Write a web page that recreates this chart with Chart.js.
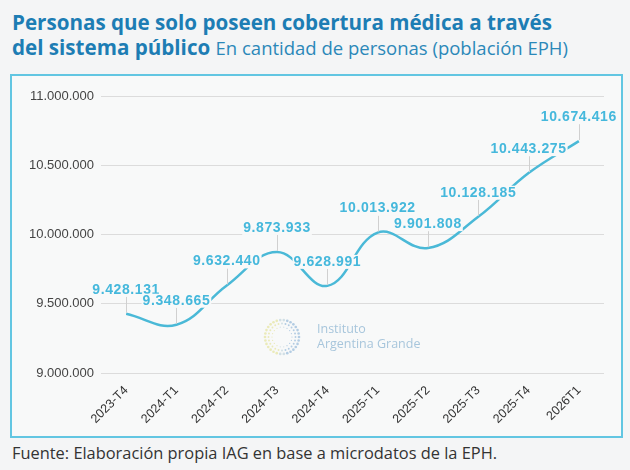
<!DOCTYPE html>
<html>
<head>
<meta charset="utf-8">
<script src="https://cdn.jsdelivr.net/npm/chart.js@4.4.1/dist/chart.umd.min.js"></script>
<style>
  html, body { margin: 0; padding: 0; }
  body {
    width: 630px; height: 470px; overflow: hidden; position: relative;
    background: #f4f5f6; font-family: "Open Sans", sans-serif;
  }
  #title {
    position: absolute; left: 12px; top: 10px; width: 615px;
    font-size: 20.6px; line-height: 25px; color: #1d7db4; font-weight: 700;
    white-space: nowrap;
  }
  #title span { font-weight: 400; font-size: 18.5px; color: #2b88b9; }
  #box {
    position: absolute; left: 10px; top: 74px; width: 613px; height: 364px;
    box-sizing: border-box; border: 2px solid #62c6e2; background: #f8f9f9;
  }
  #box canvas { display: block; }
  #source {
    position: absolute; left: 12px; top: 441px;
    font-size: 16.4px; color: #333;
  }
</style>
</head>
<body>
<div id="title">Personas que solo poseen cobertura médica a través<br>del sistema público <span>En cantidad de personas (población EPH)</span></div>
<div id="box"><canvas id="lineChart" width="609" height="360"></canvas></div>
<div id="source">Fuente: Elaboración propia IAG en base a microdatos de la EPH.</div>
<script>
// Datos
const PERIODS = ['2023-T4','2024-T1','2024-T2','2024-T3','2024-T4','2025-T1','2025-T2','2025-T3','2025-T4','2026T1'];
const PERSONAS = [9428131, 9348665, 9632440, 9873933, 9628991, 10013922, 9901808, 10128185, 10443275, 10674416];
const Y_MIN = 9000000;
const Y_MAX = 11000000;
const Y_STEP = 500000;

const LINE_COLOR  = '#4ab9d7';
const LABEL_COLOR = '#45b8dc';
const PLOT_BG     = '#f8f9f9';

// separador de miles con punto
const fmt = v => String(Math.round(v)).replace(/\B(?=(\d{3})+(?!\d))/g, '.');

// etiquetas de valor con línea guía y fondo
const valueLabels = {
    id: 'valueLabels',
    afterDatasetsDraw(chart) {
        const ctx = chart.ctx;
        const meta = chart.getDatasetMeta(0);
        ctx.save();
        ctx.font = 'bold 14px "Liberation Sans", Arial, sans-serif';
        if ('letterSpacing' in ctx) ctx.letterSpacing = '0.6px';
        ctx.textAlign = 'center';
        ctx.textBaseline = 'middle';
        meta.data.forEach((pt, i) => {
            const txt = fmt(PERSONAS[i]);
            const ly = pt.y - 24;
            // línea guía
            ctx.strokeStyle = '#d0d0d0';
            ctx.lineWidth = 1;
            ctx.beginPath();
            ctx.moveTo(Math.round(pt.x) + 0.5, ly + 7);
            ctx.lineTo(Math.round(pt.x) + 0.5, pt.y - 1);
            ctx.stroke();
            const w = ctx.measureText(txt).width;
            ctx.fillStyle = PLOT_BG;
            ctx.fillRect(pt.x - w / 2 - 1, ly - 7, w + 2, 14);
            ctx.fillStyle = LABEL_COLOR;
            ctx.fillText(txt, pt.x, ly);
        });
        ctx.restore();
    },
};

// marca de agua del instituto
const watermark = {
    id: 'watermark',
    beforeDatasetsDraw(chart) {
        const ctx = chart.ctx;
        const a = chart.chartArea;
        const cx = a.left + 181, cy = a.top + 241;
        ctx.save();
        const rings = [10, 13.5, 17];
        rings.forEach((r, k) => {
            const n = 18 + k * 6;
            for (let j = 0; j < n; j++) {
                const ang = (j / n) * Math.PI * 2;
                const side = Math.cos(ang);
                ctx.fillStyle = side < -0.2 ? 'rgba(222,220,120,0.5)'
                              : side > 0.2 ? 'rgba(110,160,205,0.5)'
                              : 'rgba(150,185,200,0.4)';
                ctx.beginPath();
                ctx.arc(cx + Math.cos(ang) * r, cy + Math.sin(ang) * r, 0.6 + k * 0.35, 0, Math.PI * 2);
                ctx.fill();
            }
        });
        ctx.fillStyle = 'rgba(140,180,210,0.75)';
        ctx.font = '12.5px "Open Sans", sans-serif';
        ctx.textAlign = 'left';
        ctx.textBaseline = 'middle';
        ctx.fillText('Instituto', cx + 35, cy - 8);
        ctx.fillText('Argentina Grande', cx + 35, cy + 7);
        ctx.restore();
    },
};

new Chart(document.getElementById('lineChart'), {
    type: 'line',
    data: {
        labels: PERIODS,
        datasets: [{
            data: PERSONAS,
            borderColor: LINE_COLOR,
            borderWidth: 2.5,
            tension: 0.4,
            pointRadius: 0,
            fill: false,
        }],
    },
    options: {
        responsive: false,
        animation: false,
        layout: { padding: { top: 20, right: 17, bottom: 0, left: 0 } },
        plugins: {
            legend: { display: false },
            tooltip: { enabled: false },
        },
        scales: {
            x: {
                offset: true,
                grid: { display: false },
                border: { display: false },
                ticks: {
                    color: '#333',
                    font: { family: '"Liberation Sans", Arial, sans-serif', size: 12.5 },
                    maxRotation: 45, minRotation: 45,
                    padding: 2,
                },
                afterFit: s => { s.height = 63; },
            },
            y: {
                min: Y_MIN, max: Y_MAX,
                grid: { color: '#dcdcdc', drawTicks: false },
                border: { display: false },
                ticks: {
                    stepSize: Y_STEP,
                    color: '#444',
                    padding: 7,
                    font: { family: '"Liberation Sans", Arial, sans-serif', size: 13 },
                    callback: v => fmt(v),
                },
                afterFit: s => { s.width = 89; },
            },
        },
    },
    plugins: [watermark, valueLabels],
});
</script>
</body>
</html>
